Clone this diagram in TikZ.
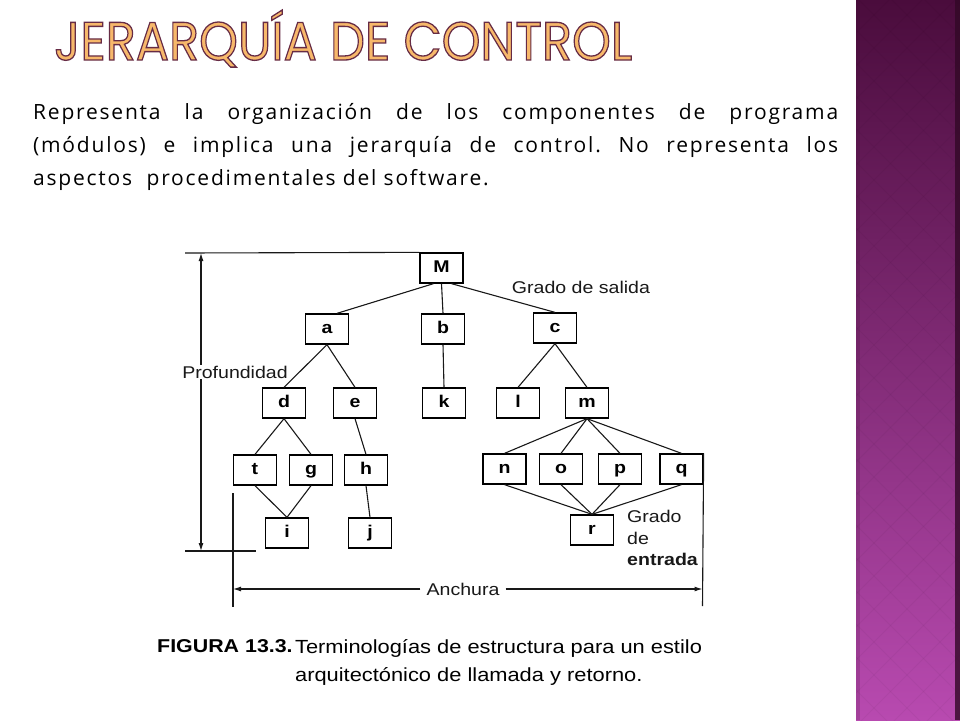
\documentclass[tikz,border=0pt]{standalone}
\usepackage{fontspec}
\setmainfont[LetterSpace = 8.5]{Open Sans}
\newfontfamily\arialfig[FakeStretch = 1.15]{Liberation Sans}
\newfontfamily\titulofont{Poppins}
\usepackage{xcolor}
\usepackage{graphicx}
\usepackage{tikz}
\usetikzlibrary{calc}
\usetikzlibrary{arrows}
\usetikzlibrary{arrows.meta}
\usetikzlibrary{positioning}
\tikzset{>={Latex[length=8pt, width=5pt]}}
\definecolor{moradoalto}{HTML}{4A0C3C}
\definecolor{moradomedio}{HTML}{7C2B72}
\definecolor{moradobajo}{HTML}{B84AB0}
\definecolor{moradoborde}{HTML}{320826}
\tikzstyle{modulo} = [draw = black, line width = 1.3, minimum width = 43, minimum height = 30, inner sep = 1, text height = 12.5, text depth = 3.5, font = \arialfig\bfseries\fontsize{17}{17}\selectfont]
\tikzstyle{enlace} = [draw = black!90, line width = 1.1]
\tikzstyle{cota} = [draw = black!90, line width = 1.1]
\tikzstyle{rotulo} = [draw = none, inner sep = 1, text = black!90, font = \arialfig\fontsize{17}{21.5}\selectfont]
\newcommand{\contornotitulo}[1]{\special{pdf:bcolor [0.97 0.72 0.42] [0.40 0.17 0.27]}\special{pdf:literal direct 2 Tr 1.3 w}#1\special{pdf:literal direct 0 Tr}\special{pdf:ecolor}}

\begin{document}
\begin{tikzpicture}[x = 1pt, y = -1pt]
\useasboundingbox (0, 0) rectangle (960, 720);
\fill [white] (0, 0) rectangle (960, 720);

\shade [top color = moradoalto, middle color = moradomedio, bottom color = moradobajo] (856, 0) rectangle (960, 720);
\begin{scope}
\clip (856, 0) rectangle (960, 720);
\foreach \k in {0, 33, ..., 1100}
{
\draw [black, opacity = 0.035, line width = 1] (856, \k - 300) -- (1200, \k + 44);
\draw [black, opacity = 0.035, line width = 1] (856, \k) -- (1200, \k - 344);
}
\end{scope}
\fill [moradoborde, opacity = 0.8] (955, 0) rectangle (960, 720);
\fill [moradoborde, opacity = 0.15] (856, 0) rectangle (860, 720);

\node [draw = none, inner sep = 0, anchor = base west] (titulo) at (54, 60) {\resizebox{578pt}{\height}{\titulofont\fontsize{54}{54}\selectfont\contornotitulo{JERARQUÍA DE CONTROL}}};

\node [draw = none, inner sep = 0, anchor = north west, text width = 805pt, align = justify, font = \frenchspacing\fontsize{21}{33}\selectfont] (texto) at (33, 103) {Representa la organización de los componentes de programa\linebreak (módulos) e implica una jerarquía de control. No representa los\linebreak aspectos\ \ procedimentales del software.};

\node [modulo] (M) at (441.5, 268) {M};
\node [modulo] (a) at (327, 329) {a};
\node [modulo] (b) at (443, 329) {b};
\node [modulo] (c) at (555, 328) {c};
\node [modulo] (d) at (284, 403) {d};
\node [modulo] (e) at (355, 403) {e};
\node [modulo] (k) at (444, 403) {k};
\node [modulo] (l) at (518, 403) {l};
\node [modulo] (m) at (587, 403) {m};
\node [modulo] (t) at (255, 470) {t};
\node [modulo] (g) at (311, 470) {g};
\node [modulo] (h) at (366, 470) {h};
\node [modulo] (n) at (504.5, 469) {n};
\node [modulo] (o) at (561, 469) {o};
\node [modulo] (p) at (620, 469) {p};
\node [modulo] (q) at (681.5, 469) {q};
\node [modulo] (i) at (287, 533) {i};
\node [modulo] (j) at (370, 533) {j};
\node [modulo] (r) at (592, 530) {r};

\draw [enlace] ($(M.south)+(-8, 0)$) to ($(a.north)+(10, 0)$);
\draw [enlace] (M.south) to (b.north);
\draw [enlace] ($(M.south)+(10, 0)$) to (c.north);
\draw [enlace] (a.south) to (d.north);
\draw [enlace] (a.south) to (e.north);
\draw [enlace] (b.south) to (k.north);
\draw [enlace] (c.south) to (l.north);
\draw [enlace] (c.south) to (m.north);
\draw [enlace] (d.south) to (t.north);
\draw [enlace] (d.south) to (g.north);
\draw [enlace] (e.south) to (h.north);
\draw [enlace] (t.south) to (i.north);
\draw [enlace] (g.south) to (i.north);
\draw [enlace] (h.south) to (j.north);
\draw [enlace] (m.south) to (n.north);
\draw [enlace] (m.south) to (o.north);
\draw [enlace] (m.south) to (p.north);
\draw [enlace] (m.south) to (q.north);
\draw [enlace] (n.south) to (r.north);
\draw [enlace] (o.south) to (r.north);
\draw [enlace] (p.south) to (r.north);
\draw [enlace] (q.south) to (r.north);

\coordinate (arribaI) at (185, 253);
\coordinate (profA) at (201, 253);
\coordinate (profB) at (201, 551);
\coordinate (abajoI) at (185, 551);
\coordinate (abajoD) at (256, 551);
\coordinate (anchI1) at (233, 493);
\coordinate (anchI2) at (233, 607);
\coordinate (anchD2) at (702.5, 606);
\draw [cota] (arribaI) to (M.north west);
\draw [cota] (abajoI) to (abajoD);
\draw [cota] (anchI1) to (anchI2);
\draw [cota] (q.north east) to (anchD2);

\node [rotulo] (prof) at (235, 372) {Profundidad};
\draw [cota, ->] (prof.north -| profA) to (profA);
\draw [cota, ->] (prof.south -| profB) to (profB);

\node [rotulo] (anch) at (463, 589) {Anchura};
\draw [cota, ->] ($(anch.west)+(-5, 0)$) to (anch.west -| anchI1);
\draw [cota, ->] ($(anch.east)+(5, 0)$) to (anch.east -| anchD2);

\node [rotulo] (salida) at (581, 287) {Grado de salida};
\node [rotulo, anchor = north west, align = left] (entrada) at (626, 509) {Grado\\de\\\textbf{entrada}};

\node [draw = none, inner sep = 0, anchor = base west, font = \arialfig\bfseries\fontsize{18.6}{18.6}\selectfont] (figura) at (157, 652) {FIGURA 13.3.};
\node [draw = none, inner sep = 0, anchor = north west, align = left, font = \arialfig\fontsize{19}{28}\selectfont] (leyenda) at ($(figura.north east)+(2, 0)$) {Terminologías de estructura para un estilo\\arquitectónico de llamada y retorno.};
\end{tikzpicture}
\end{document}
